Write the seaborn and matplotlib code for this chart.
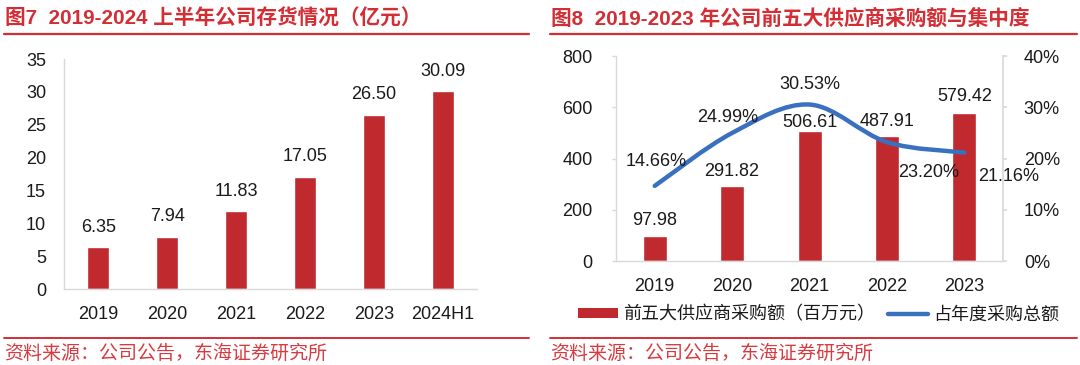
import numpy as np
import pandas as pd
import seaborn as sns
import matplotlib.pyplot as plt
from matplotlib.path import Path
from matplotlib.patches import PathPatch, Patch
from matplotlib.lines import Line2D
from matplotlib.ticker import FuncFormatter

# data
inv_years = ['2019', '2020', '2021', '2022', '2023', '2024H1']
inv_values = [6.35, 7.94, 11.83, 17.05, 26.50, 30.09]

sup_years = ['2019', '2020', '2021', '2022', '2023']
sup_amount = [97.98, 291.82, 506.61, 487.91, 579.42]
sup_share = [14.66, 24.99, 30.53, 23.20, 21.16]

sns.set_theme(style='white')
plt.rcParams['font.family'] = ['Liberation Sans', 'Noto Sans CJK SC', 'DejaVu Sans']
plt.rcParams['axes.unicode_minus'] = False

RED = '#C0292E'
TITLE_RED = '#D42E35'
BLUE = '#3A70C0'
GRAY = '#D9D9D9'
TXT = '#1A1A1A'
FS = 13

fig = plt.figure(figsize=(10.8, 3.65), dpi=100)
ax1 = fig.add_axes([0.0593, 0.2082, 0.3824, 0.630])
ax2 = fig.add_axes([0.5704, 0.2849, 0.3583, 0.5616])


def style_axis(ax):
    for s in ['top', 'right']:
        ax.spines[s].set_visible(False)
    for s in ['left', 'bottom']:
        ax.spines[s].set_color(GRAY)
        ax.spines[s].set_linewidth(1.0)
    ax.tick_params(axis='y', length=3, color=GRAY, width=1, labelsize=FS, labelcolor=TXT, pad=10)
    ax.tick_params(axis='x', length=0, labelsize=FS, labelcolor=TXT, pad=12)
    ax.set_xlabel('')
    ax.set_ylabel('')


# ---- left chart: inventory
df1 = pd.DataFrame({'year': inv_years, 'value': inv_values})
sns.barplot(data=df1, x='year', y='value', color=RED, width=0.32, saturation=1, ax=ax1)
ax1.set_xlim(-0.5, len(inv_years) - 0.5)
ax1.set_ylim(0, 35)
ax1.set_yticks(range(0, 36, 5))
style_axis(ax1)
for i, v in enumerate(inv_values):
    ax1.annotate(f'{v:.2f}', (i, v), xytext=(0, 20), textcoords='offset pixels',
                 ha='center', va='center', fontsize=FS, color=TXT)

# ---- right chart: top-5 suppliers
df2 = pd.DataFrame({'year': sup_years, 'amount': sup_amount})
sns.barplot(data=df2, x='year', y='amount', color=RED, width=0.31, saturation=1, ax=ax2)
ax2.set_xlim(-0.5, len(sup_years) - 0.5)
ax2.set_ylim(0, 800)
ax2.set_yticks(range(0, 801, 200))
style_axis(ax2)
ax2.tick_params(axis='y', pad=14)
bar_dy = [15, 15, 9, 14, 16]
for i, v in enumerate(sup_amount):
    ax2.annotate(f'{v:.2f}', (i, v), xytext=(0, bar_dy[i]), textcoords='offset pixels',
                 ha='center', va='center', fontsize=FS, color=TXT)

ax3 = ax2.twinx()
ax3.set_ylim(0, 0.4)
ax3.set_yticks(np.arange(0, 0.41, 0.1))
ax3.yaxis.set_major_formatter(FuncFormatter(lambda v, p: f'{v * 100:.0f}%'))
for s in ['top', 'left', 'bottom']:
    ax3.spines[s].set_visible(False)
ax3.spines['right'].set_color(GRAY)
ax3.tick_params(axis='y', length=3, color=GRAY, labelsize=FS, labelcolor=TXT, pad=12)

# smoothed line (Excel-like Catmull-Rom bezier through the data points)
xs = np.arange(len(sup_share), dtype=float)
ys = np.array(sup_share) / 100
verts = [(xs[0], ys[0])]
codes = [Path.MOVETO]
n = len(xs)
for i in range(n - 1):
    p0 = (xs[max(i - 1, 0)], ys[max(i - 1, 0)])
    p1 = (xs[i], ys[i])
    p2 = (xs[i + 1], ys[i + 1])
    p3 = (xs[min(i + 2, n - 1)], ys[min(i + 2, n - 1)])
    c1 = (p1[0] + (p2[0] - p0[0]) / 6, p1[1] + (p2[1] - p0[1]) / 6)
    c2 = (p2[0] - (p3[0] - p1[0]) / 6, p2[1] - (p3[1] - p1[1]) / 6)
    verts += [c1, c2, p2]
    codes += [Path.CURVE4] * 3
ax3.add_patch(PathPatch(Path(verts, codes), fill=False, edgecolor=BLUE, lw=3.2,
                        capstyle='round', joinstyle='round'))

pct_off = [(1, 24), (-4, 15), (0, 20), (42, -30), (44, -24)]
for i, v in enumerate(sup_share):
    ax3.annotate(f'{v:.2f}%', (i, v / 100), xytext=pct_off[i], textcoords='offset pixels',
                 ha='center', va='center', fontsize=FS, color=TXT)

handles = [Patch(facecolor=RED, edgecolor='none'),
           Line2D([], [], color=BLUE, lw=3.2, solid_capstyle='round')]
fig.legend(handles, ['前五大供应商采购额（百万元）', '占年度采购总额'],
           loc='center', bbox_to_anchor=(0.758, 0.137), ncol=2, frameon=False,
           fontsize=FS, handlelength=2.2, handleheight=0.45, handletextpad=0.3,
           columnspacing=0.7, labelcolor=TXT)

# titles, rules and source notes
fig.text(0.0046, 0.948, '图7  2019-2024 上半年公司存货情况（亿元）', fontsize=14.9,
         fontweight='bold', color=TITLE_RED, ha='left', va='center')
fig.text(0.510, 0.948, '图8  2019-2023 年公司前五大供应商采购额与集中度', fontsize=14.9,
         fontweight='bold', color=TITLE_RED, ha='left', va='center')
for x0, x1 in [(0.004, 0.490), (0.509, 0.997)]:
    fig.add_artist(Line2D([x0, x1], [0.906, 0.906], transform=fig.transFigure,
                          color=TITLE_RED, lw=1.6))
    fig.add_artist(Line2D([x0, x1], [0.075, 0.075], transform=fig.transFigure,
                          color=TITLE_RED, lw=1.4))
    fig.text(x0, 0.030, '资料来源：公司公告，东海证券研究所', fontsize=13.7,
             color='#D93A40', ha='left', va='center')

fig.savefig('out.png', dpi=100)
